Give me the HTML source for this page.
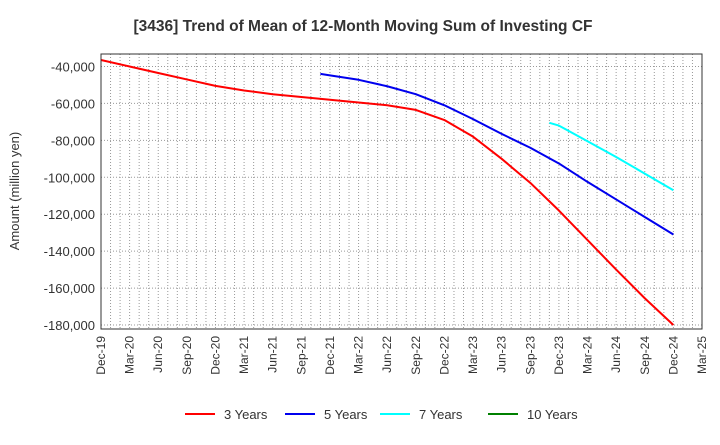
<!DOCTYPE html>
<html><head><meta charset="utf-8"><style>
body{margin:0;background:#fff;font-family:"Liberation Sans",Arial,sans-serif}
svg text{font-family:"Liberation Sans",Arial,sans-serif}
</style></head><body>
<svg id="c" width="720" height="440" xmlns="http://www.w3.org/2000/svg">
<text x="363" y="31" text-anchor="middle" font-size="15.5" font-weight="bold" fill="#333">[3436]  Trend of Mean of 12-Month Moving Sum of Investing CF</text>
<text transform="translate(19,191) rotate(-90)" text-anchor="middle" font-size="13" fill="#333">Amount (million yen)</text>
<g id="grid"></g><g id="ticks"></g><g id="series"></g>
<rect x="101" y="54" width="601" height="275" fill="none" stroke="#333" stroke-width="1"/>
<g id="legend"></g>
</svg>
<script>
const xLabels=["Dec-19","Mar-20","Jun-20","Sep-20","Dec-20","Mar-21","Jun-21","Sep-21","Dec-21","Mar-22","Jun-22","Sep-22","Dec-22","Mar-23","Jun-23","Sep-23","Dec-23","Mar-24","Jun-24","Sep-24","Dec-24","Mar-25"];
const yTicks=[-40000,-60000,-80000,-100000,-120000,-140000,-160000,-180000];
const m3=[0,3,6,9,12,15,18,21,24,27,30,33,36,39,42,45,48,51,54,57,60];
const s3=[-36500,-40000,-43500,-47000,-50500,-53000,-55000,-56500,-58000,-59500,-61000,-63500,-69000,-78000,-90000,-103000,-118000,-134000,-150000,-165500,-180000];
const m5=[23,24,27,30,33,36,39,42,45,48,51,54,57,60];
const s5=[-44000,-44800,-47200,-50700,-55000,-61000,-68500,-76500,-84000,-92500,-102500,-112000,-121500,-131000];
const m7=[47,48,51,54,57,60];
const s7=[-70500,-72000,-80500,-89000,-98000,-107000];
const m10=[];
const s10=[];
const L=101,R=702,T=54,B=329;
const X=m=>L+m*(R-L)/63;
const Y=v=>66.5+(-40000-v)/20000*36.93;
const ns="http://www.w3.org/2000/svg";
function mk(t,a,p){const e=document.createElementNS(ns,t);for(const k in a)e.setAttribute(k,a[k]);p.appendChild(e);return e;}
const grid=document.getElementById('grid'),ticks=document.getElementById('ticks'),ser=document.getElementById('series'),leg=document.getElementById('legend');
for(let m=1;m<63;m++){const x=X(m);const g=mk('line',{x1:x,x2:x,y1:T,y2:B,stroke:'#999','stroke-dasharray':'1,2','stroke-width':1},grid);

}
yTicks.forEach(v=>{const y=Y(v);const g=mk('line',{x1:L,x2:R,y1:y,y2:y,stroke:'#999','stroke-dasharray':'1,2'},grid);


const t=mk('text',{x:L-6,y:y+5,'text-anchor':'end','font-size':13,fill:'#333'},ticks);t.textContent=v.toLocaleString('en-US');

});
xLabels.forEach((l,i)=>{const x=X(i*3);const t=mk('text',{transform:`translate(${x+4},336) rotate(-90)`,'text-anchor':'end','font-size':12,fill:'#333'},ticks);t.textContent=l;

});
function line(ms,d,c,n){let p='';d.forEach((v,i)=>{p+=(p?'L':'M')+X(ms[i])+','+Y(v);});if(!p)return;
const e=mk('path',{d:p,fill:'none',stroke:c,'stroke-width':2,'stroke-linejoin':'round'},ser);

}
line(m3,s3,'#ff0000','line-3-years');line(m5,s5,'#0000ee','line-5-years');line(m7,s7,'#00ffff','line-7-years');line(m10,s10,'#008000','line-10-years');
[['3 Years','#ff0000',185],['5 Years','#0000ee',285],['7 Years','#00ffff',380],['10 Years','#008000',488]].forEach(([n,c,x])=>{
const g=mk('g',{},leg);


mk('line',{x1:x,x2:x+30,y1:414,y2:414,stroke:c,'stroke-width':2},g);
const t=mk('text',{x:x+39,y:419,'font-size':13,fill:'#333'},g);t.textContent=n;});
</script>
</body></html>
